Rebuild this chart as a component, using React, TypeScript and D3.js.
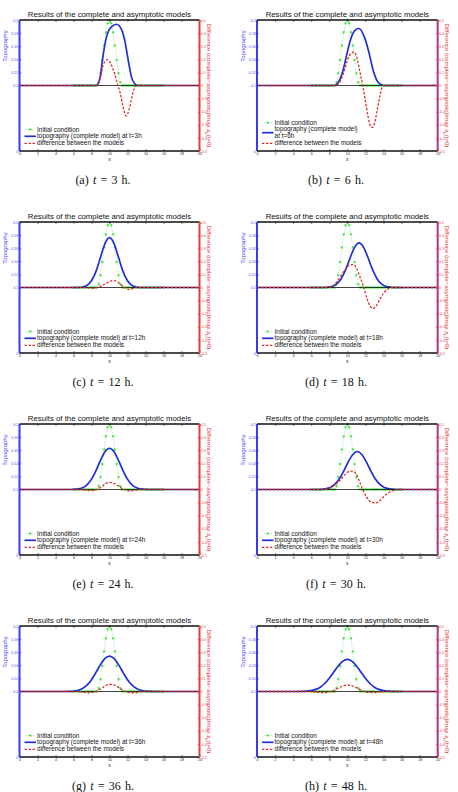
import React, { useEffect, useRef } from "react";
import * as d3 from "d3";

type Pt = [number, number];

// initial condition, sampled every 0.2 from x = 6 to x = 16
const initStart = 6;
const initStep = 0.2;
const initialCondition = [
  0.1, 0.1, 0.1, 0.1, 0.1, 0.1, 0.1, 0.1, 0.1, 0.1, 0.1, 0.1, 0.1, 0.1,
  0.105, 0.1188, 0.1389, 0.1611, 0.1812, 0.195, 0.2, 0.195, 0.1812, 0.1611, 0.1389, 0.1188, 0.105,
  0.1, 0.1, 0.1, 0.1, 0.1, 0.1, 0.1, 0.1, 0.1, 0.1, 0.1, 0.1, 0.1, 0.1, 0.1, 0.1, 0.1, 0.1, 0.1, 0.1,
  0.1, 0.1, 0.1, 0.1,
];

// topography of the complete model (left axis)
const topo03: Pt[] = [[0, 0.1], [8.5, 0.1], [8.7, 0.102], [8.95, 0.112], [9.3, 0.147], [9.68, 0.175], [10.24, 0.19], [10.8, 0.1935], [11.35, 0.185], [11.72, 0.167], [12.1, 0.137], [12.46, 0.112], [12.8, 0.1026], [13.1, 0.1], [20, 0.1]];
const topo06: Pt[] = [[0, 0.1], [8.6, 0.1], [8.9, 0.103], [9.2, 0.11], [9.5, 0.122], [9.8, 0.139], [10.35, 0.17], [10.9, 0.185], [11.3, 0.187], [11.85, 0.175], [12.4, 0.15], [12.8, 0.126], [13.3, 0.107], [13.7, 0.1015], [14.0, 0.1], [20, 0.1]];
const topo12: Pt[] = [[0, 0.1], [6.5, 0.1], [7.0, 0.1008], [7.5, 0.1033], [8.0, 0.1103], [8.5, 0.1247], [9.0, 0.1461], [9.5, 0.1671], [10, 0.176], [10.5, 0.1671], [11, 0.1461], [11.5, 0.1247], [12, 0.1103], [12.5, 0.1033], [13, 0.1008], [13.5, 0.1], [20, 0.1]];
const topo18: Pt[] = [[0, 0.1], [7.3, 0.1], [7.8, 0.1004], [8.3, 0.1016], [8.8, 0.1052], [9.3, 0.1131], [9.8, 0.1269], [10.3, 0.145], [10.8, 0.1613], [11.3, 0.168], [11.8, 0.1613], [12.3, 0.145], [12.8, 0.1269], [13.3, 0.1131], [13.8, 0.1052], [14.3, 0.1016], [14.8, 0.1004], [15.3, 0.1], [20, 0.1]];
const topo24: Pt[] = [[0, 0.1], [5.5, 0.1], [6.0, 0.1003], [6.5, 0.1009], [7.0, 0.1028], [7.5, 0.1072], [8.0, 0.1158], [8.5, 0.1289], [9.0, 0.1445], [9.5, 0.1578], [10.0, 0.163], [10.5, 0.1578], [11.0, 0.1445], [11.5, 0.1289], [12.0, 0.1158], [12.5, 0.1072], [13.0, 0.1028], [13.5, 0.1009], [14.0, 0.1003], [14.5, 0.1], [20, 0.1]];
const topo30: Pt[] = [[0, 0.1], [6.6, 0.1], [7.1, 0.1003], [7.6, 0.1012], [8.1, 0.1032], [8.6, 0.1078], [9.1, 0.1161], [9.6, 0.1282], [10.1, 0.1421], [10.6, 0.1535], [11.1, 0.158], [11.6, 0.1535], [12.1, 0.1421], [12.6, 0.1282], [13.1, 0.1161], [13.6, 0.1078], [14.1, 0.1032], [14.6, 0.1012], [15.1, 0.1003], [15.6, 0.1], [20, 0.1]];
const topo36: Pt[] = [[0, 0.1], [5.0, 0.1], [5.5, 0.1002], [6.0, 0.1007], [6.5, 0.1019], [7.0, 0.1046], [7.5, 0.1097], [8.0, 0.118], [8.5, 0.1292], [9.0, 0.141], [9.5, 0.1504], [10.0, 0.154], [10.5, 0.1504], [11.0, 0.141], [11.5, 0.1292], [12.0, 0.118], [12.5, 0.1097], [13.0, 0.1046], [13.5, 0.1019], [14.0, 0.1007], [14.5, 0.1002], [15.0, 0.1], [20, 0.1]];
const topo48: Pt[] = [[0, 0.1], [4.5, 0.1], [5.0, 0.1002], [5.5, 0.1005], [6.0, 0.1014], [6.5, 0.1032], [7.0, 0.1066], [7.5, 0.1122], [8.0, 0.1201], [8.5, 0.1297], [9.0, 0.1392], [9.5, 0.1464], [10.0, 0.149], [10.5, 0.1464], [11.0, 0.1392], [11.5, 0.1297], [12.0, 0.1201], [12.5, 0.1122], [13.0, 0.1066], [13.5, 0.1032], [14.0, 0.1014], [14.5, 0.1005], [15.0, 0.1002], [15.5, 0.1], [20, 0.1]];

// difference between the models (right axis)
const diff03: Pt[] = [[0, 0], [8.5, 0], [8.75, 0.02], [8.95, 0.05], [9.3, 0.155], [9.55, 0.188], [9.8, 0.197], [10.15, 0.165], [10.55, 0.095], [10.9, 0.01], [11.2, -0.06], [11.5, -0.16], [11.85, -0.232], [12.15, -0.19], [12.45, -0.1], [12.75, -0.025], [13.0, 0], [20, 0]];
const diff06: Pt[] = [[0, 0], [8.7, 0], [9.2, 0.03], [9.6, 0.1], [10.0, 0.19], [10.4, 0.245], [10.75, 0.255], [11.1, 0.2], [11.4, 0.1], [11.7, 0.0], [12.0, -0.12], [12.3, -0.24], [12.6, -0.315], [12.8, -0.32], [13.0, -0.29], [13.3, -0.19], [13.6, -0.08], [13.95, 0], [20, 0]];
const diff12: Pt[] = [[0, 0], [7.0, 0], [7.6, -0.003], [8.2, -0.006], [8.7, 0.0], [9.2, 0.015], [9.7, 0.035], [10.2, 0.05], [10.5, 0.052], [10.9, 0.042], [11.3, 0.02], [11.7, 0.0], [12.1, -0.015], [12.5, -0.01], [13.0, 0], [20, 0]];
const diff18: Pt[] = [[0, 0], [7.8, 0], [8.3, 0.01], [8.8, 0.04], [9.3, 0.09], [9.8, 0.14], [10.3, 0.172], [10.65, 0.176], [11.0, 0.15], [11.4, 0.08], [11.8, 0.005], [12.2, -0.09], [12.5, -0.14], [12.8, -0.161], [13.2, -0.14], [13.6, -0.09], [14.0, -0.045], [14.5, -0.012], [15.0, 0], [20, 0]];
const diff24: Pt[] = [[0, 0], [6.5, 0], [7.3, -0.004], [8.0, -0.008], [8.6, 0.0], [9.1, 0.02], [9.6, 0.045], [10.0, 0.054], [10.4, 0.05], [10.9, 0.03], [11.4, 0.008], [11.8, -0.005], [12.3, -0.01], [12.9, -0.005], [13.5, 0], [20, 0]];
const diff30: Pt[] = [[0, 0], [7.3, 0], [7.8, 0.006], [8.3, 0.02], [8.8, 0.045], [9.3, 0.08], [9.8, 0.118], [10.3, 0.14], [10.6, 0.141], [11.0, 0.115], [11.4, 0.05], [11.7, 0.0], [12.1, -0.055], [12.6, -0.095], [13.1, -0.103], [13.6, -0.085], [14.1, -0.05], [14.6, -0.022], [15.1, -0.007], [15.7, 0], [20, 0]];
const diff36: Pt[] = [[0, 0], [6.0, 0], [7.0, -0.005], [7.7, -0.01], [8.4, -0.003], [8.9, 0.015], [9.4, 0.038], [9.9, 0.053], [10.3, 0.054], [10.8, 0.04], [11.3, 0.018], [11.8, 0.0], [12.4, -0.01], [13.0, -0.008], [13.7, 0], [20, 0]];
const diff48: Pt[] = [[0, 0], [5.5, 0], [6.5, -0.004], [7.3, -0.008], [8.0, -0.003], [8.6, 0.012], [9.2, 0.033], [9.7, 0.046], [10.1, 0.048], [10.6, 0.042], [11.1, 0.026], [11.6, 0.008], [12.1, -0.004], [12.8, -0.008], [13.5, -0.004], [14.3, 0], [20, 0]];

const letters = ["a", "b", "c", "d", "e", "f", "g", "h"];
const hours = [3, 6, 12, 18, 24, 30, 36, 48];
const topoSeries = [topo03, topo06, topo12, topo18, topo24, topo30, topo36, topo48];
const diffSeries = [diff03, diff06, diff12, diff18, diff24, diff30, diff36, diff48];

const xTicks = [0, 2, 4, 6, 8, 10, 12, 14, 16, 18, 20];
const leftTicks = [0, 0.1, 0.12, 0.14, 0.16, 0.18, 0.2];
const rightTicks = [-0.5, -0.4, -0.3, -0.2, -0.1, 0, 0.1, 0.2, 0.3, 0.4, 0.5];

const title = "Results of the complete and asymptotic models";
const sans = "'Liberation Sans', Arial, sans-serif";

export default function App() {
  const ref = useRef<SVGSVGElement>(null);

  useEffect(() => {
    const svg = d3.select(ref.current);
    svg.selectAll("*").remove();

    const colLeft = [19.5, 257];
    const colWidth = [180, 180.7];
    const captionX = [103, 336];
    const h = 131;

    const initPts: Pt[] = initialCondition.map((v, i) => [initStart + i * initStep, v]);

    topoSeries.forEach((topo, i) => {
      const col = i % 2;
      const row = Math.floor(i / 2);
      const w = colWidth[col];
      const top = 20 + 202 * row;
      const rightColor = col === 0 ? "#e33a3a" : "#b0357e";

      const g = svg.append("g").attr("transform", `translate(${colLeft[col]},${top})`);

      const x = d3.scaleLinear().domain([0, 20]).range([0, w]);
      const yL = d3.scaleLinear().domain([0, 0.2]).range([h, 0]);
      const yR = d3.scaleLinear().domain([-0.5, 0.5]).range([h, 0]);

      // initial condition
      g.append("path")
        .datum(initPts)
        .attr("fill", "none")
        .attr("stroke", "#33dd33")
        .attr("stroke-width", 0.5)
        .attr("stroke-dasharray", "0.6,0.9")
        .attr("d", d3.line<Pt>().x((d) => x(d[0])).y((d) => yL(d[1])));

      const star = "M-1.3,0H1.3M0,-1.3V1.3M-0.95,-0.95L0.95,0.95M-0.95,0.95L0.95,-0.95";
      g.selectAll(".ic")
        .data(initPts)
        .join("path")
        .attr("class", "ic")
        .attr("transform", (d) => `translate(${x(d[0])},${yL(d[1])})`)
        .attr("d", star)
        .attr("stroke", "#22dd22")
        .attr("stroke-width", 0.55)
        .attr("fill", "none");

      // complete model
      g.append("path")
        .datum(topo)
        .attr("fill", "none")
        .attr("stroke", "#1f2fd6")
        .attr("stroke-width", 1.7)
        .attr("d", d3.line<Pt>().x((d) => x(d[0])).y((d) => yL(d[1])).curve(d3.curveMonotoneX));

      // zero line
      g.append("line")
        .attr("x1", 0).attr("x2", w)
        .attr("y1", yR(0)).attr("y2", yR(0))
        .attr("stroke", "#111")
        .attr("stroke-width", 0.8);

      // difference
      g.append("path")
        .datum(diffSeries[i])
        .attr("fill", "none")
        .attr("stroke", "#e02a2a")
        .attr("stroke-width", 1.3)
        .attr("stroke-dasharray", "2.4,1.6")
        .attr("d", d3.line<Pt>().x((d) => x(d[0])).y((d) => yR(d[1])).curve(d3.curveMonotoneX));

      // axes
      const styleAxis = (sel: any, color: string) => {
        sel.select(".domain").remove();
        sel.attr("font-size", 3.6).attr("font-family", sans);
        sel.selectAll("line").attr("stroke", color).attr("stroke-width", 0.6);
        sel.selectAll("text").attr("fill", color);
      };

      g.append("g")
        .attr("transform", `translate(0,${h})`)
        .call(d3.axisBottom(x).tickValues(xTicks).tickSize(-2).tickPadding(1.2).tickFormat(d3.format("d")))
        .call((s: any) => styleAxis(s, "#222"));
      g.append("g")
        .call(d3.axisTop(x).tickValues(xTicks).tickSize(-2).tickFormat(() => ""))
        .call((s: any) => styleAxis(s, "#222"));
      g.append("g")
        .call(d3.axisLeft(yL).tickValues(leftTicks).tickSize(-2).tickPadding(1.2).tickFormat((d: any) => String(d)))
        .call((s: any) => styleAxis(s, "#4a4aff"));
      g.append("g")
        .attr("transform", `translate(${w},0)`)
        .call(d3.axisRight(yR).tickValues(rightTicks).tickSize(-2).tickPadding(1.2).tickFormat((d: any) => String(+(+d).toFixed(1))))
        .call((s: any) => styleAxis(s, "#e24444"));

      // spines
      g.append("line").attr("x1", 0).attr("x2", w).attr("y1", 0).attr("y2", 0).attr("stroke", "#111").attr("stroke-width", 1.3);
      g.append("line").attr("x1", 0).attr("x2", w).attr("y1", h).attr("y2", h).attr("stroke", "#111").attr("stroke-width", 1.3);
      g.append("line").attr("x1", 0).attr("x2", 0).attr("y1", 0).attr("y2", h).attr("stroke", "#3b3bf0").attr("stroke-width", 2);
      g.append("line").attr("x1", w).attr("x2", w).attr("y1", 0).attr("y2", h).attr("stroke", rightColor).attr("stroke-width", 2);

      // labels
      g.append("text")
        .attr("x", w / 2).attr("y", -3.3)
        .attr("text-anchor", "middle")
        .attr("font-family", sans).attr("font-size", 7.8)
        .attr("fill", "#111")
        .text(title);

      g.append("text")
        .attr("x", w / 2).attr("y", h + 9.5)
        .attr("text-anchor", "middle")
        .attr("font-family", sans).attr("font-size", 5)
        .attr("fill", "#222")
        .text("x");

      g.append("text")
        .attr("transform", `translate(-12.5,26) rotate(-90)`)
        .attr("text-anchor", "middle")
        .attr("font-family", sans).attr("font-size", 6)
        .attr("fill", "#4545ff")
        .text("Topography");

      const rl = g.append("text")
        .attr("transform", `translate(${w + 7},${h / 2}) rotate(90)`)
        .attr("text-anchor", "middle")
        .attr("font-family", sans).attr("font-size", 6.1)
        .attr("fill", "#e53535");
      rl.append("tspan").text("Difference (complete\u2212asymptotic)/max z");
      rl.append("tspan").attr("font-size", 4.2).attr("dy", 1.5).text("b");
      rl.append("tspan").attr("dy", -1.5).text("(t=0)");

      // legend
      const twoLine = i === 1;
      const rows = twoLine ? [102.7, 112.7, 123.3] : [109.5, 116.3, 123.3];
      const lg = g.append("g").attr("font-family", sans).attr("font-size", 6.4).attr("fill", "#111");
      const tx = 17.6;

      lg.append("line").attr("x1", 5.5).attr("x2", 16).attr("y1", rows[0]).attr("y2", rows[0])
        .attr("stroke", "#33dd33").attr("stroke-width", 0.5).attr("stroke-dasharray", "0.6,0.9");
      lg.append("path").attr("transform", `translate(10.7,${rows[0]})`).attr("d", star)
        .attr("stroke", "#22dd22").attr("stroke-width", 0.55).attr("fill", "none");
      lg.append("text").attr("x", tx).attr("y", rows[0] + 2.1).text("Initial condition");

      lg.append("line").attr("x1", 5).attr("x2", 16.5).attr("y1", rows[1]).attr("y2", rows[1])
        .attr("stroke", "#1f2fd6").attr("stroke-width", 1.7);
      if (twoLine) {
        lg.append("text").attr("x", tx).attr("y", rows[1] - 3.4 + 2.1).text("topography (complete model)");
        lg.append("text").attr("x", tx).attr("y", rows[1] + 3.3 + 2.1).text(`at t=${hours[i]}h`);
      } else {
        lg.append("text").attr("x", tx).attr("y", rows[1] + 2.1).text(`topography (complete model) at t=${hours[i]}h`);
      }

      lg.append("line").attr("x1", 5).attr("x2", 16.5).attr("y1", rows[2]).attr("y2", rows[2])
        .attr("stroke", "#e02a2a").attr("stroke-width", 1.3).attr("stroke-dasharray", "2.4,1.6");
      lg.append("text").attr("x", tx).attr("y", rows[2] + 2.1).text("difference between the models");

      // caption
      const cap = svg.append("text")
        .attr("x", captionX[col]).attr("y", top + h + 32.5)
        .attr("text-anchor", "middle")
        .attr("font-family", "'Liberation Serif', 'DejaVu Serif', serif")
        .attr("font-size", 12)
        .attr("word-spacing", 1.2)
        .attr("fill", "#111");
      cap.append("tspan").text(`(${letters[i]}) `);
      cap.append("tspan").attr("font-style", "italic").text("t");
      cap.append("tspan").text(` = ${hours[i]} h.`);
    });
  }, []);

  return (
    <svg
      ref={ref}
      width={458}
      height={792}
      style={{ position: "absolute", left: 0, top: 0, background: "#fff" }}
    />
  );
}
